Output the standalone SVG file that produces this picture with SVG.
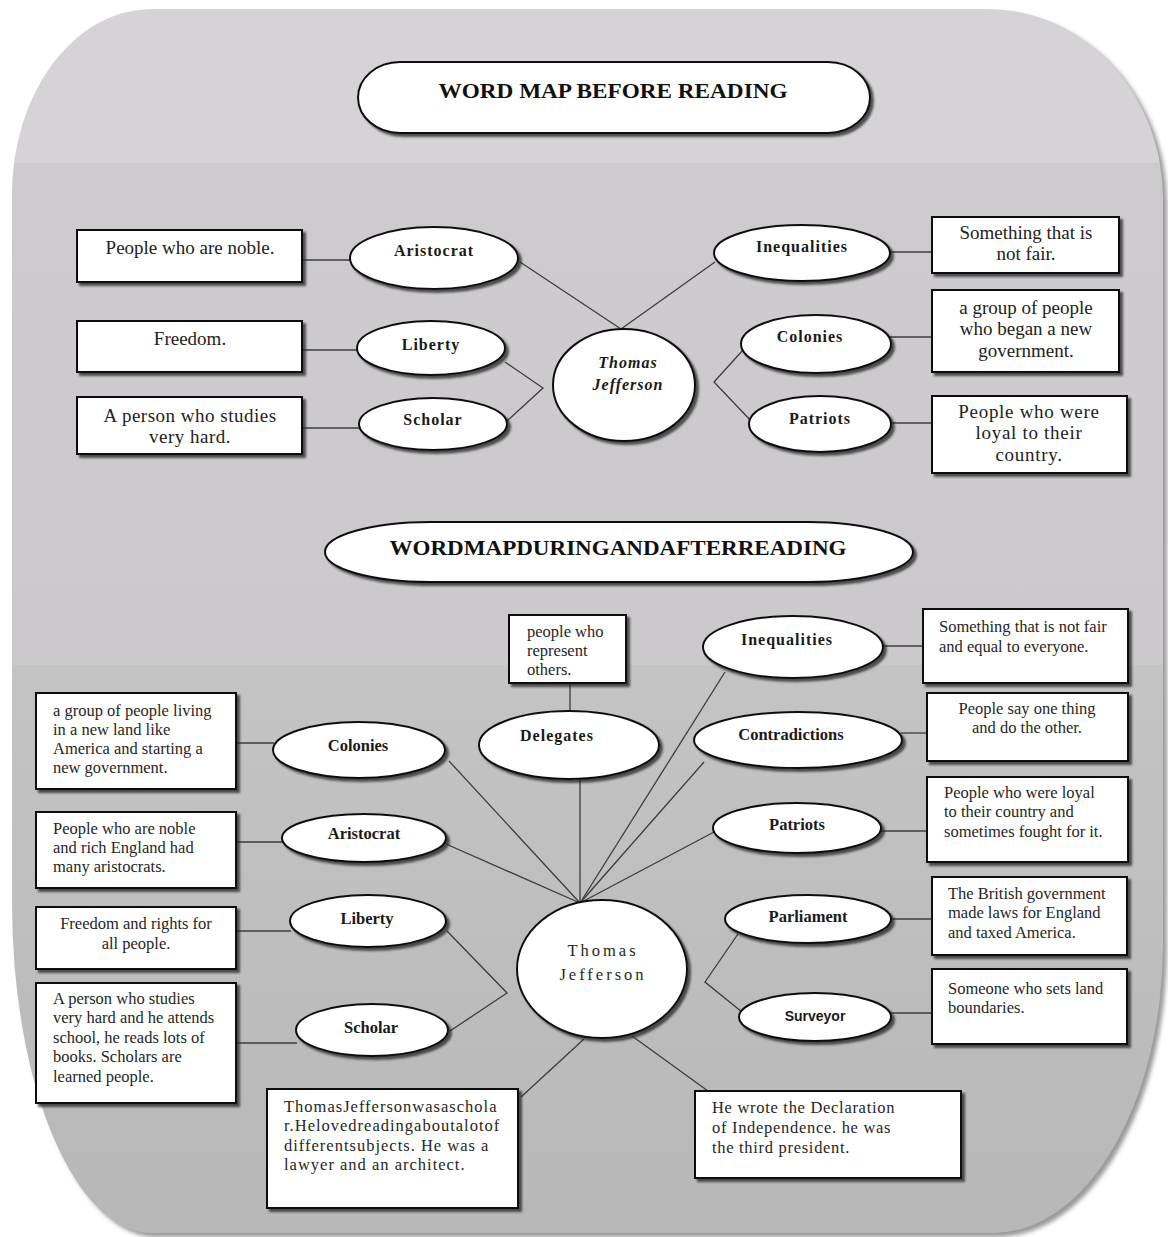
<svg xmlns="http://www.w3.org/2000/svg" width="1168" height="1237" viewBox="0 0 1168 1237">
<defs>
<linearGradient id="bgg" gradientUnits="userSpaceOnUse" x1="0" y1="9" x2="0" y2="1233">
<stop offset="0" stop-color="#d5d3d6"/>
<stop offset="0.126" stop-color="#d5d3d6"/>
<stop offset="0.126" stop-color="#cdcbce"/>
<stop offset="0.536" stop-color="#cbc9cc"/>
<stop offset="0.536" stop-color="#c4c4c4"/>
<stop offset="1" stop-color="#b7b7b7"/>
</linearGradient>
<filter id="sh" x="-10%" y="-15%" width="130%" height="145%">
<feDropShadow dx="3" dy="3" stdDeviation="1.2" flood-color="#222" flood-opacity="0.75"/>
</filter>
<filter id="bsh" x="-5%" y="-5%" width="115%" height="115%">
<feGaussianBlur stdDeviation="2"/>
</filter>
</defs>
<style>
.box{fill:#fff;stroke:#111;stroke-width:2;filter:url(#sh)}
.ell{fill:#fff;stroke:#111;stroke-width:2;filter:url(#sh)}
.ln{stroke:#3c3c3c;stroke-width:1.3;fill:none}
.tc{font-family:"Liberation Serif",serif;font-size:19px;fill:#222;text-anchor:middle}
.tl{font-family:"Liberation Serif",serif;font-size:16.5px;fill:#262626}
.tm{font-family:"Liberation Serif",serif;font-size:16.5px;fill:#262626;text-anchor:middle}
.lb{font-family:"Liberation Serif",serif;font-weight:bold;font-size:16px;letter-spacing:1px;fill:#1a1a1a;text-anchor:middle}
.lb2{font-family:"Liberation Serif",serif;font-weight:bold;font-size:16.5px;fill:#1a1a1a;text-anchor:middle}
.title{font-family:"Liberation Serif",serif;font-weight:bold;font-size:22px;fill:#111;text-anchor:middle}
</style>

<g id="background">
<path d="M 156,13 H 992 A 175 190 0 0 1 1167 203 V 947 A 170 290 0 0 1 997 1237 H 156 A 140 330 0 0 1 16 907 V 198 A 140 185 0 0 1 156 13 Z" fill="#9a9a9a" filter="url(#bsh)"/>
<path d="M 152,9 H 988 A 175 190 0 0 1 1163 199 V 943 A 170 290 0 0 1 993 1233 H 152 A 140 330 0 0 1 12 903 V 194 A 140 185 0 0 1 152 9 Z" fill="url(#bgg)"/>
</g>

<g id="connectors">
<line class="ln" x1="302" y1="260" x2="350" y2="260"/>
<line class="ln" x1="520" y1="262" x2="621" y2="329"/>
<line class="ln" x1="302" y1="350" x2="358" y2="350"/>
<line class="ln" x1="302" y1="428" x2="360" y2="428"/>
<polyline class="ln" points="505,362 543,388 507,421"/>
<line class="ln" x1="621" y1="329" x2="715" y2="262"/>
<line class="ln" x1="890" y1="252" x2="932" y2="252"/>
<line class="ln" x1="890" y1="337" x2="932" y2="337"/>
<line class="ln" x1="890" y1="423" x2="932" y2="423"/>
<polyline class="ln" points="743,350 714,382 753,423"/>

<line class="ln" x1="236" y1="743" x2="274" y2="743"/>
<line class="ln" x1="236" y1="842" x2="283" y2="842"/>
<line class="ln" x1="236" y1="931" x2="291" y2="931"/>
<line class="ln" x1="236" y1="1043" x2="297" y2="1043"/>
<polyline class="ln" points="447,931 507,993 450,1031"/>
<line class="ln" x1="570" y1="683" x2="570" y2="711"/>
<line class="ln" x1="580" y1="779" x2="580" y2="903"/>
<line class="ln" x1="449" y1="761" x2="580" y2="903"/>
<line class="ln" x1="446" y1="844" x2="580" y2="903"/>
<line class="ln" x1="725" y1="672" x2="580" y2="903"/>
<line class="ln" x1="704" y1="762" x2="580" y2="903"/>
<line class="ln" x1="714" y1="832" x2="580" y2="903"/>
<line class="ln" x1="882" y1="646" x2="923" y2="646"/>
<line class="ln" x1="901" y1="733" x2="927" y2="733"/>
<line class="ln" x1="880" y1="831" x2="927" y2="831"/>
<line class="ln" x1="890" y1="919" x2="932" y2="919"/>
<line class="ln" x1="890" y1="1013" x2="932" y2="1013"/>
<polyline class="ln" points="738,934 705,982 742,1012"/>
<line class="ln" x1="584" y1="1039" x2="521" y2="1097"/>
<line class="ln" x1="632" y1="1036" x2="708" y2="1091"/>
</g>

<g id="title-before">
<rect class="ell" x="358" y="62" width="512" height="71" rx="42" ry="36"/>
<text class="title" x="613" y="98" textLength="349" lengthAdjust="spacingAndGlyphs">WORD MAP BEFORE READING</text>
</g>

<g id="def-noble">
<rect class="box" x="77" y="230" width="225" height="52"/>
<text class="tc" x="190" y="254">People who are noble.</text>
</g>
<g id="aristocrat-1">
<ellipse class="ell" cx="434" cy="258" rx="84" ry="31"/>
<text class="lb" x="434" y="256">Aristocrat</text>
</g>
<g id="def-freedom">
<rect class="box" x="77" y="321" width="225" height="51"/>
<text class="tc" x="190" y="345">Freedom.</text>
</g>
<g id="liberty-1">
<ellipse class="ell" cx="431" cy="348" rx="74" ry="27"/>
<text class="lb" x="431" y="350">Liberty</text>
</g>
<g id="def-studies">
<rect class="box" x="77" y="397" width="225" height="57"/>
<text class="tc" x="190" y="422" letter-spacing="0.5">A person who studies</text>
<text class="tc" x="190" y="443" letter-spacing="0.5">very hard.</text>
</g>
<g id="scholar-1">
<ellipse class="ell" cx="433" cy="424" rx="74" ry="26"/>
<text class="lb" x="433" y="425">Scholar</text>
</g>
<g id="jefferson-1">
<ellipse class="ell" cx="624" cy="385" rx="71" ry="56"/>
<text class="lb" x="628" y="368" font-style="italic" letter-spacing="2">Thomas</text>
<text class="lb" x="628" y="390" font-style="italic" letter-spacing="2">Jefferson</text>
</g>
<g id="inequalities-1">
<ellipse class="ell" cx="802" cy="253" rx="88" ry="28"/>
<text class="lb" x="802" y="252">Inequalities</text>
</g>
<g id="def-notfair">
<rect class="box" x="932" y="217" width="187" height="56"/>
<text class="tc" x="1026" y="239">Something that is</text>
<text class="tc" x="1026" y="260">not fair.</text>
</g>
<g id="colonies-1">
<ellipse class="ell" cx="816" cy="344" rx="75" ry="29"/>
<text class="lb" x="810" y="342">Colonies</text>
</g>
<g id="def-group">
<rect class="box" x="932" y="290" width="187" height="82"/>
<text class="tc" x="1026" y="314">a group of people</text>
<text class="tc" x="1026" y="335">who began a new</text>
<text class="tc" x="1026" y="357">government.</text>
</g>
<g id="patriots-1">
<ellipse class="ell" cx="820" cy="424" rx="71" ry="28"/>
<text class="lb" x="820" y="424">Patriots</text>
</g>
<g id="def-loyal">
<rect class="box" x="932" y="396" width="195" height="77"/>
<text class="tc" x="1029" y="418" letter-spacing="0.7">People who were</text>
<text class="tc" x="1029" y="439" letter-spacing="0.7">loyal to their</text>
<text class="tc" x="1029" y="461" letter-spacing="0.7">country.</text>
</g>

<g id="title-during">
<rect class="ell" x="325" y="522" width="588" height="60" rx="105" ry="30"/>
<text class="title" x="618" y="555" textLength="457" lengthAdjust="spacingAndGlyphs">WORDMAPDURINGANDAFTERREADING</text>
</g>

<g id="def-represent">
<rect class="box" x="509" y="615" width="117" height="68"/>
<text class="tl" x="527" y="637">people who</text>
<text class="tl" x="527" y="656">represent</text>
<text class="tl" x="527" y="675">others.</text>
</g>
<g id="delegates">
<ellipse class="ell" cx="569" cy="745" rx="90" ry="34"/>
<text class="lb" x="557" y="741" letter-spacing="1.8">Delegates</text>
</g>
<g id="def-colonies-2">
<rect class="box" x="36" y="693" width="200" height="96"/>
<text class="tl" x="53" y="716">a group of people living</text>
<text class="tl" x="53" y="735">in a new land like</text>
<text class="tl" x="53" y="754">America and starting a</text>
<text class="tl" x="53" y="773">new government.</text>
</g>
<g id="colonies-2">
<ellipse class="ell" cx="359" cy="750" rx="86" ry="28"/>
<text class="lb2" x="358" y="751">Colonies</text>
</g>
<g id="def-aristocrat-2">
<rect class="box" x="36" y="812" width="200" height="76"/>
<text class="tl" x="53" y="834">People who are noble</text>
<text class="tl" x="53" y="853">and rich England had</text>
<text class="tl" x="53" y="872">many aristocrats.</text>
</g>
<g id="aristocrat-2">
<ellipse class="ell" cx="364" cy="838" rx="82" ry="24"/>
<text class="lb2" x="364" y="839">Aristocrat</text>
</g>
<g id="def-liberty-2">
<rect class="box" x="36" y="907" width="200" height="62"/>
<text class="tm" x="136" y="929">Freedom and rights for</text>
<text class="tm" x="136" y="949">all people.</text>
</g>
<g id="liberty-2">
<ellipse class="ell" cx="368" cy="921" rx="78" ry="26"/>
<text class="lb2" x="367" y="924">Liberty</text>
</g>
<g id="def-scholar-2">
<rect class="box" x="36" y="983" width="200" height="120"/>
<text class="tl" x="53" y="1004">A person who studies</text>
<text class="tl" x="53" y="1023">very hard and he attends</text>
<text class="tl" x="53" y="1043">school, he reads lots of</text>
<text class="tl" x="53" y="1062">books. Scholars are</text>
<text class="tl" x="53" y="1082">learned people.</text>
</g>
<g id="scholar-2">
<ellipse class="ell" cx="372" cy="1030" rx="76" ry="26"/>
<text class="lb2" x="371" y="1033">Scholar</text>
</g>
<g id="jefferson-2">
<ellipse class="ell" cx="602" cy="969" rx="85" ry="69"/>
<text class="tm" x="603" y="956" font-size="20" letter-spacing="3" fill="#333">Thomas</text>
<text class="tm" x="603" y="980" font-size="20" letter-spacing="3" fill="#333">Jefferson</text>
</g>
<g id="inequalities-2">
<ellipse class="ell" cx="793" cy="647" rx="90" ry="31"/>
<text class="lb" x="787" y="645">Inequalities</text>
</g>
<g id="def-inequalities-2">
<rect class="box" x="923" y="609" width="205" height="74"/>
<text class="tl" x="939" y="632">Something that is not fair</text>
<text class="tl" x="939" y="652">and equal to everyone.</text>
</g>
<g id="contradictions">
<ellipse class="ell" cx="798" cy="740" rx="104" ry="28"/>
<text class="lb2" x="791" y="740">Contradictions</text>
</g>
<g id="def-contradictions">
<rect class="box" x="927" y="693" width="201" height="68"/>
<text class="tm" x="1027" y="714">People say one thing</text>
<text class="tm" x="1027" y="733">and do the other.</text>
</g>
<g id="patriots-2">
<ellipse class="ell" cx="797" cy="828" rx="84" ry="25"/>
<text class="lb2" x="797" y="830">Patriots</text>
</g>
<g id="def-patriots-2">
<rect class="box" x="927" y="777" width="201" height="85"/>
<text class="tl" x="944" y="798">People who were loyal</text>
<text class="tl" x="944" y="817">to their country and</text>
<text class="tl" x="944" y="837">sometimes fought for it.</text>
</g>
<g id="parliament">
<ellipse class="ell" cx="808" cy="919" rx="83" ry="24"/>
<text class="lb2" x="808" y="922">Parliament</text>
</g>
<g id="def-parliament">
<rect class="box" x="932" y="877" width="195" height="78"/>
<text class="tl" x="948" y="899">The British government</text>
<text class="tl" x="948" y="918">made laws for England</text>
<text class="tl" x="948" y="938">and taxed America.</text>
</g>
<g id="surveyor">
<ellipse class="ell" cx="815" cy="1017" rx="76" ry="24"/>
<text x="815" y="1021" font-family="Liberation Sans, sans-serif" font-weight="bold" font-size="14" fill="#1a1a1a" text-anchor="middle">Surveyor</text>
</g>
<g id="def-surveyor">
<rect class="box" x="932" y="969" width="195" height="75"/>
<text class="tl" x="948" y="994">Someone who sets land</text>
<text class="tl" x="948" y="1013">boundaries.</text>
</g>
<g id="def-jefferson-scholar">
<rect class="box" x="267" y="1089" width="251" height="119"/>
<text class="tl" x="284" y="1112" font-size="15.5" letter-spacing="1">ThomasJeffersonwasaschola</text>
<text class="tl" x="284" y="1131" font-size="15.5" letter-spacing="1">r.Helovedreadingaboutalotof</text>
<text class="tl" x="284" y="1151" font-size="15.5" letter-spacing="1">differentsubjects. He was a</text>
<text class="tl" x="284" y="1170" font-size="15.5" letter-spacing="1">lawyer and an architect.</text>
</g>
<g id="def-declaration">
<rect class="box" x="695" y="1091" width="266" height="87"/>
<text class="tl" x="712" y="1113" font-size="15.5" letter-spacing="0.7">He wrote the Declaration</text>
<text class="tl" x="712" y="1133" font-size="15.5" letter-spacing="0.7">of Independence. he was</text>
<text class="tl" x="712" y="1153" font-size="15.5" letter-spacing="0.7">the third president.</text>
</g>
</svg>
